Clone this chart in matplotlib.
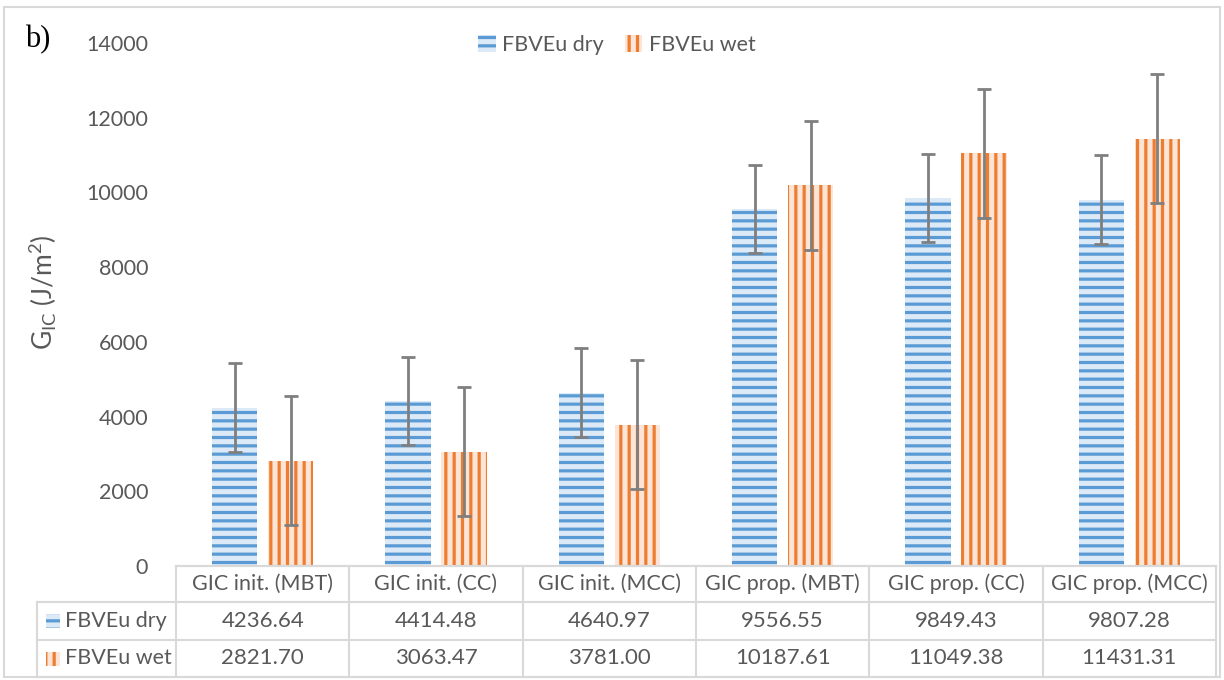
import numpy as np
import matplotlib
matplotlib.use("Agg")
import matplotlib.pyplot as plt
from matplotlib.patches import Rectangle

# datos
categorias = ["GIC init. (MBT)", "GIC init. (CC)", "GIC init. (MCC)",
              "GIC prop. (MBT)", "GIC prop. (CC)", "GIC prop. (MCC)"]
seco = [4236.64, 4414.48, 4640.97, 9556.55, 9849.43, 9807.28]
humedo = [2821.70, 3063.47, 3781.00, 10187.61, 11049.38, 11431.31]
err_seco = [1188, 1188, 1188, 1188, 1188, 1188]
err_humedo = [1727, 1727, 1727, 1727, 1727, 1727]
series = ["FBVEu dry", "FBVEu wet"]
yticks = [0, 2000, 4000, 6000, 8000, 10000, 12000, 14000]

plt.rcParams['font.family'] = ['Lato', 'DejaVu Sans']
plt.rcParams['mathtext.default'] = 'regular'
plt.rcParams['hatch.linewidth'] = 2.3

gris_txt = "#595959"
gris_linea = "#D9D9D9"
azul, azul_claro = "#5B9BD5", "#DCE9F6"
naranja, naranja_claro = "#ED7D31", "#FCE4D6"
fs = 15.5

fig = plt.figure(figsize=(12.24, 6.8), dpi=100)
ax = fig.add_axes([176/1224, 1-566/680, 1040/1224, (566-43)/680])

x = np.arange(len(categorias))
ancho = 0.262
b1 = ax.bar(x - 0.162, seco, ancho, color=azul_claro, edgecolor=azul,
            linewidth=0, hatch="--", label=series[0])
b2 = ax.bar(x + 0.162, humedo, ancho, color=naranja_claro, edgecolor=naranja,
            linewidth=0, hatch="||", label=series[1])
ax.errorbar(x - 0.162, seco, yerr=err_seco, fmt="none", ecolor="#7F7F7F",
            elinewidth=2, capsize=5, capthick=2)
ax.errorbar(x + 0.162, humedo, yerr=err_humedo, fmt="none", ecolor="#7F7F7F",
            elinewidth=2, capsize=5, capthick=2)

ax.set_xlim(-0.5, len(categorias) - 0.5)
ax.set_ylim(0, 14000)
ax.set_yticks(yticks)
ax.set_xticks([])
ax.tick_params(axis="y", length=0, pad=20, labelsize=fs, labelcolor=gris_txt)
for s in ["top", "right", "left"]:
    ax.spines[s].set_visible(False)
ax.spines["bottom"].set_color(gris_linea)
ax.spines["bottom"].set_linewidth(1.5)

# tabla de datos debajo del eje
trans = ax.get_xaxis_transform()
alto_px = 523
filas = [0, -36/alto_px, -74/alto_px, -111/alto_px]
x_izq = -0.5 - (176-37)/173.3
kw = dict(transform=trans, clip_on=False, color=gris_linea, lw=1.5)
for i in range(len(categorias) + 1):
    ax.plot([i - 0.5, i - 0.5], [filas[0], filas[3]], **kw)
ax.plot([x_izq, x_izq], [filas[1], filas[3]], **kw)
ax.plot([-0.5, len(categorias) - 0.5], [filas[0], filas[0]], **kw)
for f in filas[1:]:
    ax.plot([x_izq, len(categorias) - 0.5], [f, f], **kw)

for i, c in enumerate(categorias):
    ax.text(i, (filas[0] + filas[1]) / 2, c, transform=trans, ha="center",
            va="center", fontsize=fs, color=gris_txt)
    ax.text(i, (filas[1] + filas[2]) / 2, f"{seco[i]:.2f}", transform=trans,
            ha="center", va="center", fontsize=16, color=gris_txt)
    ax.text(i, (filas[2] + filas[3]) / 2, f"{humedo[i]:.2f}", transform=trans,
            ha="center", va="center", fontsize=16, color=gris_txt)

for k, (nombre, fc, ec, h) in enumerate([(series[0], azul_claro, azul, "--"),
                                         (series[1], naranja_claro, naranja, "||")]):
    yc = (filas[k + 1] + filas[k + 2]) / 2
    ax.add_patch(Rectangle((x_izq + 0.05, yc - 7/alto_px), 0.085, 14/alto_px,
                           transform=trans, clip_on=False, facecolor=fc,
                           edgecolor=ec, linewidth=0, hatch=h))
    ax.text(x_izq + 0.16, yc, nombre, transform=trans, ha="left", va="center",
            fontsize=fs, color=gris_txt)

fig.legend(handles=[b1, b2], loc="center", bbox_to_anchor=(617/1224, 1-45/680),
           ncol=2, frameon=False, fontsize=fs, labelcolor=gris_txt,
           handlelength=0.8, handleheight=0.8, handletextpad=0.3, columnspacing=1.0)

fig.text(43/1224, 1-292/680, r"G$_{IC}$ (J/m$^{2}$)", rotation=90, ha="center",
         va="center", fontsize=19, color=gris_txt)
fig.text(25/1224, 1-40/680, "b)", fontsize=22, family="Liberation Serif",
         ha="left", va="center", color="black")

# borde del area del grafico
fig.patches.append(Rectangle((4/1224, 3/680), 1216/1224, 670/680,
                             transform=fig.transFigure, fill=False,
                             edgecolor=gris_linea, linewidth=1.5))

plt.savefig("out.png", dpi=100)
